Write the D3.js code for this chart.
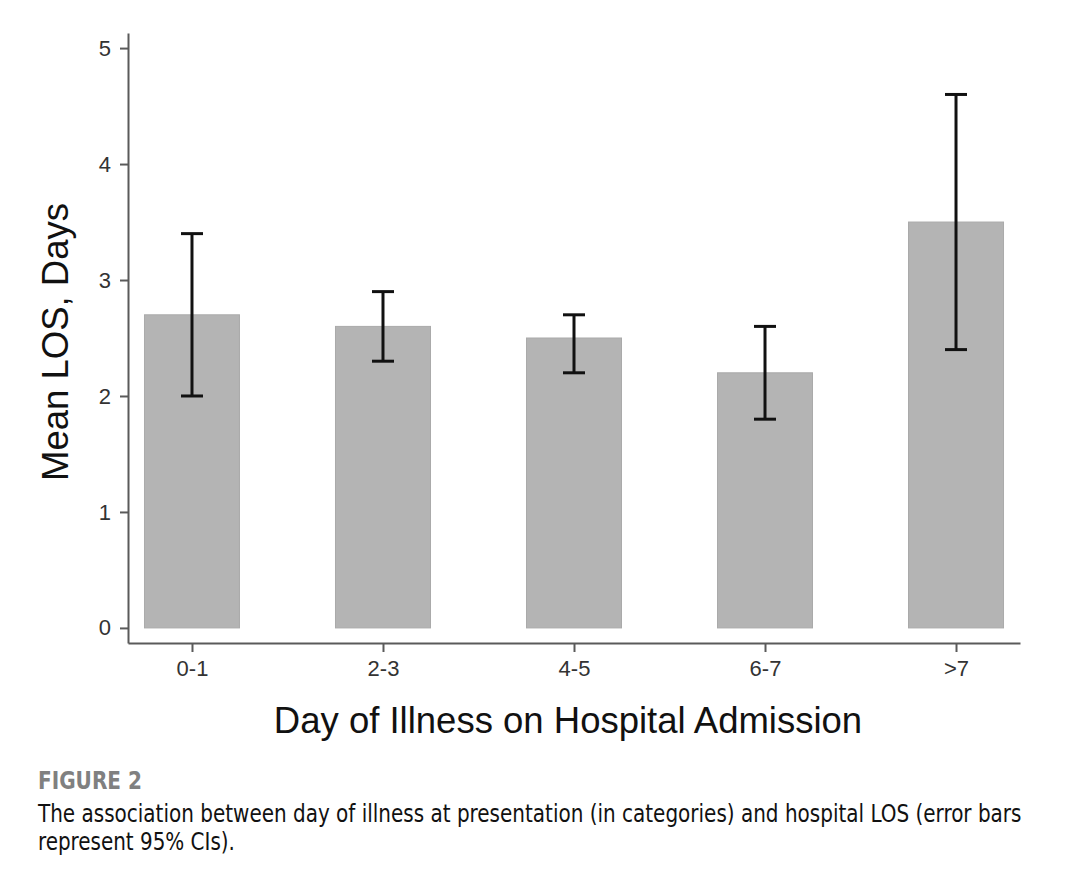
<!DOCTYPE html>
<html>
<head>
<meta charset="utf-8">
<script src="https://cdn.jsdelivr.net/npm/d3@7"></script>
<style>
  html, body { margin: 0; padding: 0; background: #fff; }
  svg { display: block; }
</style>
</head>
<body>
<svg id="chart" width="1074" height="888"></svg>
<script>
// ========= Data =========
const categories = ["0-1", "2-3", "4-5", "6-7", ">7"];
const meanLOS = [2.7, 2.6, 2.5, 2.2, 3.5];
const ciLow = [2.0, 2.3, 2.2, 1.8, 2.4];
const ciHigh = [3.4, 2.9, 2.7, 2.6, 4.6];
const yTicks = [0, 1, 2, 3, 4, 5];

const xTitle = "Day of Illness on Hospital Admission";
const yTitle = "Mean LOS, Days";
const figLabel = "FIGURE 2";
const captionLines = [
  "The association between day of illness at presentation (in categories) and hospital LOS (error bars",
  "represent 95% CIs)."
];

// ========= Layout =========
const svg = d3.select("#chart");
const plot = { left: 128, right: 1020, top: 33, bottom: 643 };
const axisColor = "#5a5a5a";
const font = "'Liberation Sans', Arial, sans-serif";

svg.append("rect").attr("width", 1074).attr("height", 888).attr("fill", "#fff");

const x = d3.scalePoint()
  .domain(categories)
  .range([plot.left, plot.right])
  .padding(0.335);

const y = d3.scaleLinear()
  .domain([-0.13, 5.13])
  .range([plot.bottom, plot.top]);

const barW = 95;
const capW = 22;

const rows = categories.map((c, i) => ({ cat: c, mean: meanLOS[i], lo: ciLow[i], hi: ciHigh[i] }));

// Bars
svg.append("g").selectAll("rect")
  .data(rows)
  .join("rect")
  .attr("x", d => x(d.cat) - barW / 2)
  .attr("y", d => y(d.mean))
  .attr("width", barW)
  .attr("height", d => y(0) - y(d.mean))
  .attr("fill", "#b4b4b4")
  .attr("stroke", "#aaaaaa")
  .attr("stroke-width", 1);

// Error bars
const eb = svg.append("g").attr("stroke", "#111").attr("stroke-width", 3).attr("fill", "none");
eb.selectAll("line.v")
  .data(rows)
  .join("line")
  .attr("class", "v")
  .attr("x1", d => x(d.cat)).attr("x2", d => x(d.cat))
  .attr("y1", d => y(d.lo)).attr("y2", d => y(d.hi));
eb.selectAll("line.cap")
  .data(rows.flatMap(d => [{ cat: d.cat, v: d.lo }, { cat: d.cat, v: d.hi }]))
  .join("line")
  .attr("class", "cap")
  .attr("x1", d => x(d.cat) - capW / 2).attr("x2", d => x(d.cat) + capW / 2)
  .attr("y1", d => y(d.v)).attr("y2", d => y(d.v));

// Y axis
const yAxis = svg.append("g")
  .attr("transform", `translate(${plot.left},0)`)
  .call(d3.axisLeft(y).tickValues(yTicks).tickFormat(d3.format("d"))
    .tickSize(8).tickPadding(9).tickSizeOuter(0));
yAxis.select(".domain").attr("stroke", axisColor).attr("stroke-width", 2);
yAxis.selectAll(".tick line").attr("stroke", axisColor).attr("stroke-width", 2);
yAxis.selectAll(".tick text")
  .attr("font-family", font).attr("font-size", 22).attr("fill", "#333");

// X axis
const xAxis = svg.append("g")
  .attr("transform", `translate(0,${plot.bottom})`)
  .call(d3.axisBottom(x).tickSize(9).tickPadding(8).tickSizeOuter(0));
xAxis.select(".domain").attr("stroke", axisColor).attr("stroke-width", 2);
xAxis.selectAll(".tick line").attr("stroke", axisColor).attr("stroke-width", 2);
xAxis.selectAll(".tick text")
  .attr("font-family", font).attr("font-size", 22).attr("fill", "#333");

// Axis titles
svg.append("text")
  .attr("x", 568).attr("y", 733)
  .attr("text-anchor", "middle")
  .attr("font-family", font).attr("font-size", 36.5).attr("fill", "#111")
  .text(xTitle);

svg.append("text")
  .attr("transform", "translate(68,342) rotate(-90)")
  .attr("text-anchor", "middle")
  .attr("font-family", font).attr("font-size", 36.5).attr("fill", "#111")
  .text(yTitle);

// Caption (condensed look: squeeze horizontally to the reference widths)
const capFont = "'Liberation Sans Narrow', 'DejaVu Sans Condensed', 'Roboto Condensed', sans-serif";
function squeezeTo(sel, x0, y0, targetW) {
  const w = sel.node().getComputedTextLength();
  const k = Math.min(1, targetW / w);
  sel.attr("x", 0).attr("y", 0)
    .attr("transform", `translate(${x0},${y0}) scale(${k},1)`);
}

const fig = svg.append("text")
  .attr("font-family", capFont).attr("font-size", 24).attr("font-weight", "bold")
  .attr("fill", "#808080")
  .text(figLabel);
squeezeTo(fig, 38, 789, 104);

const capWidths = [984, 197];
captionLines.forEach((line, i) => {
  const t = svg.append("text")
    .attr("class", "caption")
    .attr("font-family", capFont).attr("font-size", 25).attr("fill", "#111")
    .text(line);
  squeezeTo(t, 38, 822 + i * 28, capWidths[i]);
});
</script>
</body>
</html>
